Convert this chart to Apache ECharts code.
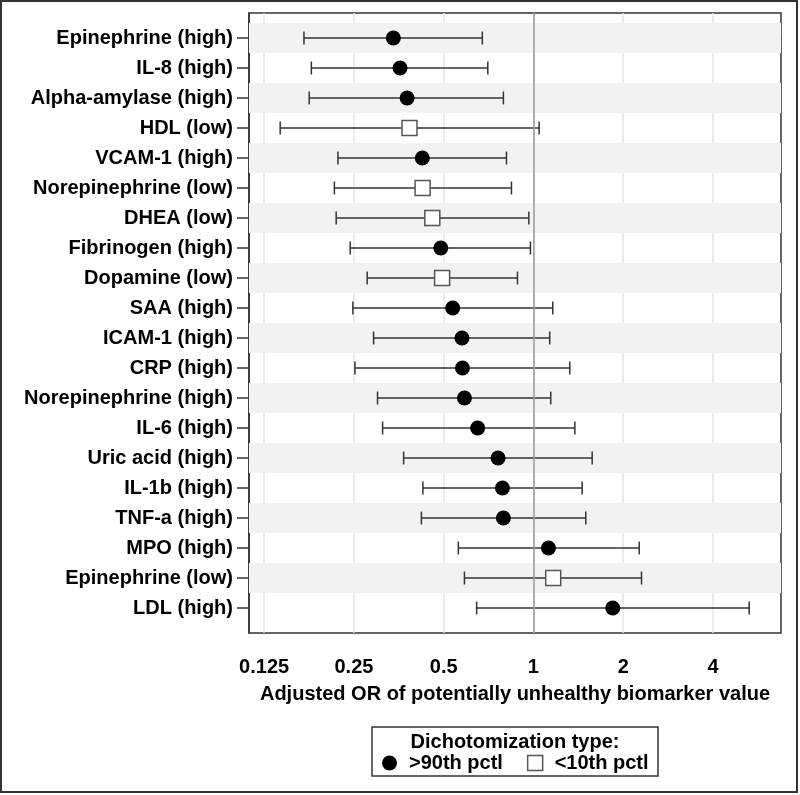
<!DOCTYPE html>
<html>
<head>
<meta charset="utf-8">
<script src="https://cdn.jsdelivr.net/npm/echarts@6/dist/echarts.min.js"></script>
<style>
html,body{margin:0;padding:0;background:#fff;}
#chart{width:800px;height:795px;}
</style>
</head>
<body>
<div id="chart"></div>
<script>
// ---- data ----
var categories = ['Epinephrine (high)', 'IL-8 (high)', 'Alpha-amylase (high)', 'HDL (low)', 'VCAM-1 (high)',
  'Norepinephrine (low)', 'DHEA (low)', 'Fibrinogen (high)', 'Dopamine (low)', 'SAA (high)', 'ICAM-1 (high)',
  'CRP (high)', 'Norepinephrine (high)', 'IL-6 (high)', 'Uric acid (high)', 'IL-1b (high)', 'TNF-a (high)',
  'MPO (high)', 'Epinephrine (low)', 'LDL (high)'];
var oddsRatio = [0.339, 0.357, 0.377, 0.384, 0.424, 0.425, 0.458, 0.489, 0.494, 0.536, 0.576, 0.578, 0.587, 0.650, 0.761, 0.787, 0.793, 1.123, 1.165, 1.845];
var ciLower = [0.170, 0.180, 0.177, 0.1415, 0.221, 0.215, 0.218, 0.243, 0.277, 0.248, 0.291, 0.252, 0.300, 0.312, 0.367, 0.426, 0.421, 0.560, 0.587, 0.645];
var ciUpper = [0.674, 0.703, 0.793, 1.045, 0.812, 0.844, 0.965, 0.977, 0.884, 1.161, 1.134, 1.324, 1.143, 1.377, 1.574, 1.457, 1.498, 2.263, 2.304, 5.29];
var dichotomization = ['high', 'high', 'high', 'low', 'high', 'low', 'low', 'high', 'low', 'high', 'high', 'high', 'high', 'high', 'high', 'high', 'high', 'high', 'low', 'high'];
var tickValues = [0.125, 0.25, 0.5, 1, 2, 4];
var tickLabels = ['0.125', '0.25', '0.5', '1', '2', '4'];
var seriesNames = ['>90th pctl', '<10th pctl'];
var legendTitle = 'Dichotomization type:';
var xTitle = 'Adjusted OR of potentially unhealthy biomarker value';

// ---- build ----
var FONT = '"Liberation Sans", Arial, Helvetica, sans-serif';
var rowIdx = categories.map(function (c, i) { return i; });
var errData = rowIdx.map(function (i) { return [ciLower[i], i, ciUpper[i]]; });
var highData = [], lowData = [];
rowIdx.forEach(function (i) {
  if (dichotomization[i] === 'high') highData.push([oddsRatio[i], i]);
  else lowData.push([oddsRatio[i], i]);
});
var bands = [];
rowIdx.forEach(function (i) {
  if (i % 2 === 0) bands.push([{ yAxis: i - 0.5 }, { yAxis: i + 0.5 }]);
});

var chart = echarts.init(document.getElementById('chart'), null, { renderer: 'canvas' });
chart.setOption({
  backgroundColor: '#fff',
  animation: false,
  textStyle: { fontFamily: FONT },
  grid: {
    left: 249, right: 19, top: 13, bottom: 162,
    show: true, borderColor: '#333', borderWidth: 1.5, backgroundColor: 'transparent'
  },
  xAxis: {
    type: 'log',
    logBase: 2,
    min: 0.1112,
    max: 6.765,
    name: xTitle,
    nameLocation: 'middle',
    nameGap: 51,
    nameTextStyle: { fontFamily: FONT, fontWeight: 'bold', fontSize: 20, color: '#000' },
    axisLine: { show: true, lineStyle: { color: '#333', width: 1.5 } },
    axisTick: { show: true, customValues: tickValues, length: 10, lineStyle: { color: '#333', width: 1.5 } },
    axisLabel: {
      customValues: tickValues,
      margin: 24,
      fontFamily: FONT, fontWeight: 'bold', fontSize: 20, color: '#000',
      formatter: function (v) {
        var best = 0;
        for (var k = 0; k < tickValues.length; k++) {
          if (Math.abs(Math.log(v) - Math.log(tickValues[k])) < Math.abs(Math.log(v) - Math.log(tickValues[best]))) best = k;
        }
        return tickLabels[best];
      }
    },
    splitLine: { show: true, lineStyle: { color: '#e6e6e6', width: 1.5 } }
  },
  yAxis: {
    type: 'value',
    inverse: true,
    min: -0.833,
    max: 19.833,
    axisLine: { show: true, lineStyle: { color: '#333', width: 1.5 } },
    axisTick: { show: true, customValues: rowIdx, length: 12, lineStyle: { color: '#333', width: 1.5 } },
    axisLabel: {
      customValues: rowIdx,
      margin: 16,
      fontFamily: FONT, fontWeight: 'bold', fontSize: 20, color: '#000',
      formatter: function (v) { return categories[Math.round(v)]; }
    },
    splitLine: { show: false }
  },
  legend: {
    left: 382,
    top: 753,
    padding: 0,
    itemWidth: 15,
    itemHeight: 15,
    itemGap: 24,
    textStyle: { fontFamily: FONT, fontWeight: 'bold', fontSize: 20, color: '#000', padding: [0, 0, 0, 7] },
    data: [
      { name: seriesNames[0], icon: 'circle', itemStyle: { color: '#000', borderWidth: 0 } },
      { name: seriesNames[1], icon: 'rect', itemStyle: { color: '#fff', borderColor: '#555', borderWidth: 1.5 } }
    ]
  },
  graphic: [
    { type: 'rect', shape: { x: 1, y: 1, width: 796, height: 791 }, style: { fill: 'none', stroke: '#333', lineWidth: 2 }, silent: true },
    { type: 'rect', shape: { x: 372, y: 727, width: 286, height: 49 }, style: { fill: 'none', stroke: '#333', lineWidth: 1.5 }, silent: true },
    { type: 'text', x: 515, y: 742, style: { text: legendTitle, fontFamily: FONT, fontWeight: 'bold', fontSize: 20, fill: '#000', align: 'center', verticalAlign: 'middle' }, silent: true }
  ],
  series: [
    {
      name: 'bands',
      type: 'line',
      data: [],
      z: -1,
      silent: true,
      markArea: { silent: true, itemStyle: { color: '#f2f2f2' }, data: bands }
    },
    {
      name: 'ci',
      type: 'custom',
      z: 3,
      silent: true,
      encode: { x: [0, 2], y: 1 },
      data: errData,
      renderItem: function (params, api) {
        var y = api.value(1);
        var p1 = api.coord([api.value(0), y]);
        var p2 = api.coord([api.value(2), y]);
        var h = 6.5;
        var st = { stroke: '#333', lineWidth: 1.5 };
        return {
          type: 'group',
          children: [
            { type: 'line', shape: { x1: p1[0], y1: p1[1], x2: p2[0], y2: p2[1] }, style: st },
            { type: 'line', shape: { x1: p1[0], y1: p1[1] - h, x2: p1[0], y2: p1[1] + h }, style: st },
            { type: 'line', shape: { x1: p2[0], y1: p2[1] - h, x2: p2[0], y2: p2[1] + h }, style: st }
          ]
        };
      },
      markLine: {
        silent: true,
        symbol: 'none',
        label: { show: false },
        lineStyle: { color: '#999', width: 1.5, type: 'solid' },
        data: [{ xAxis: 1 }]
      }
    },
    {
      name: seriesNames[0],
      type: 'scatter',
      z: 5,
      symbol: 'circle',
      symbolSize: 15,
      itemStyle: { color: '#000', opacity: 1 },
      data: highData
    },
    {
      name: seriesNames[1],
      type: 'scatter',
      z: 5,
      symbol: 'rect',
      symbolSize: 15,
      itemStyle: { color: '#fff', borderColor: '#555', borderWidth: 1.5, opacity: 1 },
      data: lowData
    }
  ]
});
</script>
</body>
</html>
